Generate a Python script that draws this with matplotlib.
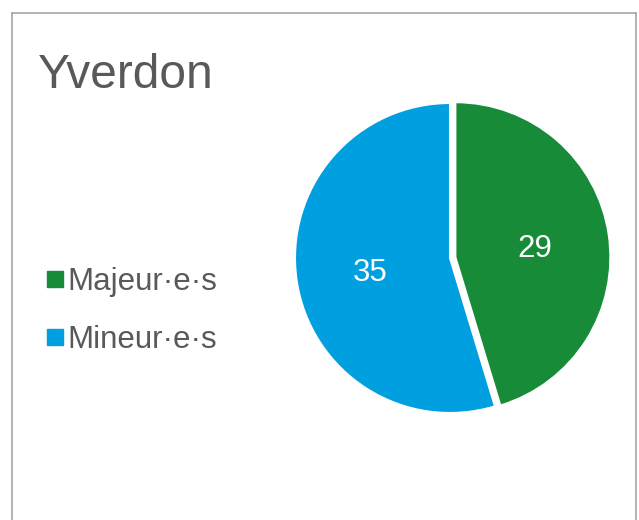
import matplotlib.pyplot as plt
from matplotlib.lines import Line2D

plt.rcParams['font.family'] = ['Liberation Sans', 'DejaVu Sans']

title = "Yverdon"
labels = ["Majeur·e·s", "Mineur·e·s"]
values = [29, 35]
colors = ["#178B38", "#009FE0"]
text_gray = "#595959"

W, H = 639, 520
fig = plt.figure(figsize=(W / 100, H / 100), dpi=100)

# grey frame (open at the bottom)
fig.add_artist(Line2D([12 / W, 12 / W], [0, 1 - 13 / H], color="#a6a6a6", lw=1.2))
fig.add_artist(Line2D([636 / W, 636 / W], [0, 1 - 13 / H], color="#a6a6a6", lw=1.2))
fig.add_artist(Line2D([12 / W, 636 / W], [1 - 13 / H, 1 - 13 / H], color="#a6a6a6", lw=1.2))

fig.text(38 / W, 1 - 88 / H, title, fontsize=34.5, color=text_gray, va="baseline", ha="left")

# pie
cx, cy, r = 450, 258, 155
lim = 1.1
ax = fig.add_axes([(cx - r * lim) / W, 1 - (cy + r * lim) / H, 2 * r * lim / W, 2 * r * lim / H])
wedges, texts = ax.pie(values, colors=colors, startangle=90, counterclock=False,
                       explode=[0.035, 0],
                       labels=[str(v) for v in values], labeldistance=0.52,
                       wedgeprops=dict(edgecolor="white", linewidth=1.5),
                       textprops=dict(color="white", fontsize=22.5))
for t in texts:
    t.set_ha("center")
    t.set_va("center_baseline")
ax.set_xlim(-lim, lim)
ax.set_ylim(-lim, lim)
ax.set_aspect("equal")
ax.axis("off")

handles = [Line2D([], [], marker="s", linestyle="none", markersize=11, color=c) for c in colors]
leg = fig.legend(handles, labels, loc="center left", bbox_to_anchor=(46 / W, 1 - 311 / H),
                 frameon=False, fontsize=22.5, handlelength=0.6, handletextpad=0.1,
                 labelspacing=0.9, borderpad=0, borderaxespad=0)
for t in leg.get_texts():
    t.set_color(text_gray)

fig.savefig("out.png", dpi=100)
